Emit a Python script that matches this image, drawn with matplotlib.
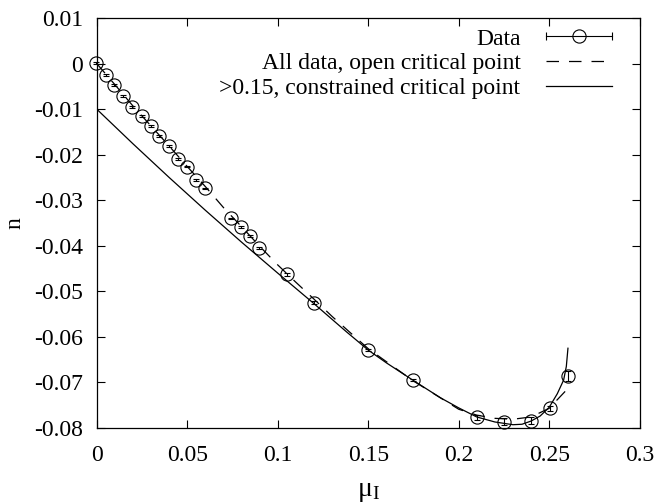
import matplotlib
matplotlib.use("Agg")
import matplotlib.pyplot as plt
from matplotlib.legend_handler import HandlerBase
from matplotlib.lines import Line2D

plt.rcParams['font.family'] = ['Liberation Serif', 'DejaVu Serif']
plt.rcParams['mathtext.fontset'] = 'custom'
plt.rcParams['mathtext.rm'] = 'Liberation Serif'
plt.rcParams['mathtext.it'] = 'Liberation Serif:italic'
plt.rcParams['axes.unicode_minus'] = False

# measured points (mu_I, n, error in n)
mu = [-0.0007, 0.0053, 0.0094, 0.0147, 0.0195, 0.0249, 0.0298, 0.0344, 0.0398,
      0.0447, 0.0498, 0.0549, 0.0598, 0.0744, 0.0795, 0.0844, 0.0895, 0.1053,
      0.1199, 0.1499, 0.1750, 0.2102, 0.2253, 0.2402, 0.2504, 0.2604]
n = [0.0002, -0.0024, -0.0047, -0.0071, -0.0095, -0.0115, -0.0137, -0.0158, -0.0180,
     -0.0209, -0.0226, -0.0256, -0.0274, -0.0340, -0.0359, -0.0378, -0.0405, -0.0463,
     -0.0525, -0.0629, -0.0695, -0.0777, -0.0786, -0.0784, -0.0757, -0.0686]
n_err = [0.0002] * 13 + [0.0002, 0.0002, 0.0002, 0.0002, 0.0003,
                         0.0003, 0.0003, 0.0003, 0.0005, 0.0007, 0.0007, 0.0005, 0.0011]

# fit: all data, open critical point
mu_open = [0.0, 0.01, 0.02, 0.03, 0.04, 0.05, 0.06, 0.07, 0.08, 0.09, 0.10, 0.11,
           0.12, 0.13, 0.15, 0.175, 0.20, 0.21, 0.22, 0.23, 0.24, 0.25, 0.26]
n_open = [0.0000, -0.0046, -0.0093, -0.0137, -0.0181, -0.0226, -0.0270, -0.0316,
          -0.0358, -0.0401, -0.0442, -0.0480, -0.0517, -0.0555, -0.0626, -0.0697,
          -0.0759, -0.0772, -0.0779, -0.0781, -0.0776, -0.0757, -0.0715]

# fit: >0.15, constrained critical point
mu_con = [0.0, 0.02, 0.04, 0.06, 0.08, 0.10, 0.12, 0.138, 0.15, 0.16, 0.175, 0.19,
          0.20, 0.21, 0.22, 0.23, 0.235, 0.24, 0.245, 0.25, 0.2545, 0.258, 0.2595, 0.2604]
n_con = [-0.0100, -0.0176, -0.0250, -0.0322, -0.0392, -0.0460, -0.0527, -0.0589,
         -0.0629, -0.0657, -0.0696, -0.0734, -0.0756, -0.0776, -0.0787, -0.0793,
         -0.0792, -0.0785, -0.0774, -0.0755, -0.0725, -0.0695, -0.0665, -0.0625]


class ErrKey(HandlerBase):
    # gnuplot-like key: horizontal bar with end caps and an open circle
    def create_artists(self, legend, orig_handle, xdescent, ydescent,
                       width, height, fontsize, trans):
        y = height / 2 - ydescent
        x0, x1 = -xdescent, -xdescent + width
        bar = Line2D([x0, x1], [y, y], color='k', lw=0.8)
        caps = Line2D([x0, x1], [y, y], ls='none', marker='|', ms=6,
                      mew=0.8, color='k')
        circ = Line2D([(x0 + x1) / 2], [y], ls='none', marker='o', ms=9.5,
                      mfc='none', mec='k', mew=0.8)
        for a in (bar, caps, circ):
            a.set_transform(trans)
        return [bar, caps, circ]


fig = plt.figure(figsize=(6.54, 5.04), dpi=100)
ax = fig.add_axes([0.148, 0.151, 0.830, 0.813])

eb = ax.errorbar(mu, n, yerr=n_err, fmt='o', ms=9.5, mfc='none', mec='k',
                 mew=0.8, ecolor='k', elinewidth=0.8, capsize=2.5, capthick=0.8)
for art in eb.lines[0:1] + tuple(eb.lines[1]) + tuple(eb.lines[2]):
    art.set_clip_on(False)
l_open, = ax.plot(mu_open, n_open, color='k', lw=0.9, dashes=(10, 8))
l_con, = ax.plot(mu_con, n_con, color='k', lw=0.9)

ax.set_xlim(0, 0.3)
ax.set_ylim(-0.08, 0.01)
ax.set_xticks([0, 0.05, 0.1, 0.15, 0.2, 0.25, 0.3])
ax.set_yticks([-0.08, -0.07, -0.06, -0.05, -0.04, -0.03, -0.02, -0.01, 0, 0.01])
ax.xaxis.set_major_formatter(plt.FuncFormatter(lambda v, p: '%g' % round(v, 4)))
ax.yaxis.set_major_formatter(plt.FuncFormatter(lambda v, p: '%g' % round(v, 4)))
ax.tick_params(direction='in', top=True, right=True, length=6, width=0.8,
               labelsize=17)
ax.tick_params(axis='x', pad=12)
ax.tick_params(axis='y', pad=10)
for s in ax.spines.values():
    s.set_linewidth(0.9)

ax.set_xlabel('μ$_\\mathrm{I}$', fontsize=20, labelpad=10)
ax.set_ylabel('n', fontsize=17, labelpad=6)

ax.legend([eb, l_open, l_con],
          ['Data', 'All data, open critical point', '>0.15, constrained critical point'],
          handler_map={type(eb): ErrKey()},
          loc='upper right', bbox_to_anchor=(0.95, 0.976), frameon=False,
          markerfirst=False, fontsize=17, handlelength=2.8, handletextpad=1.1,
          labelspacing=0.14, borderpad=0, borderaxespad=0)

fig.savefig('out.png', dpi=100)
